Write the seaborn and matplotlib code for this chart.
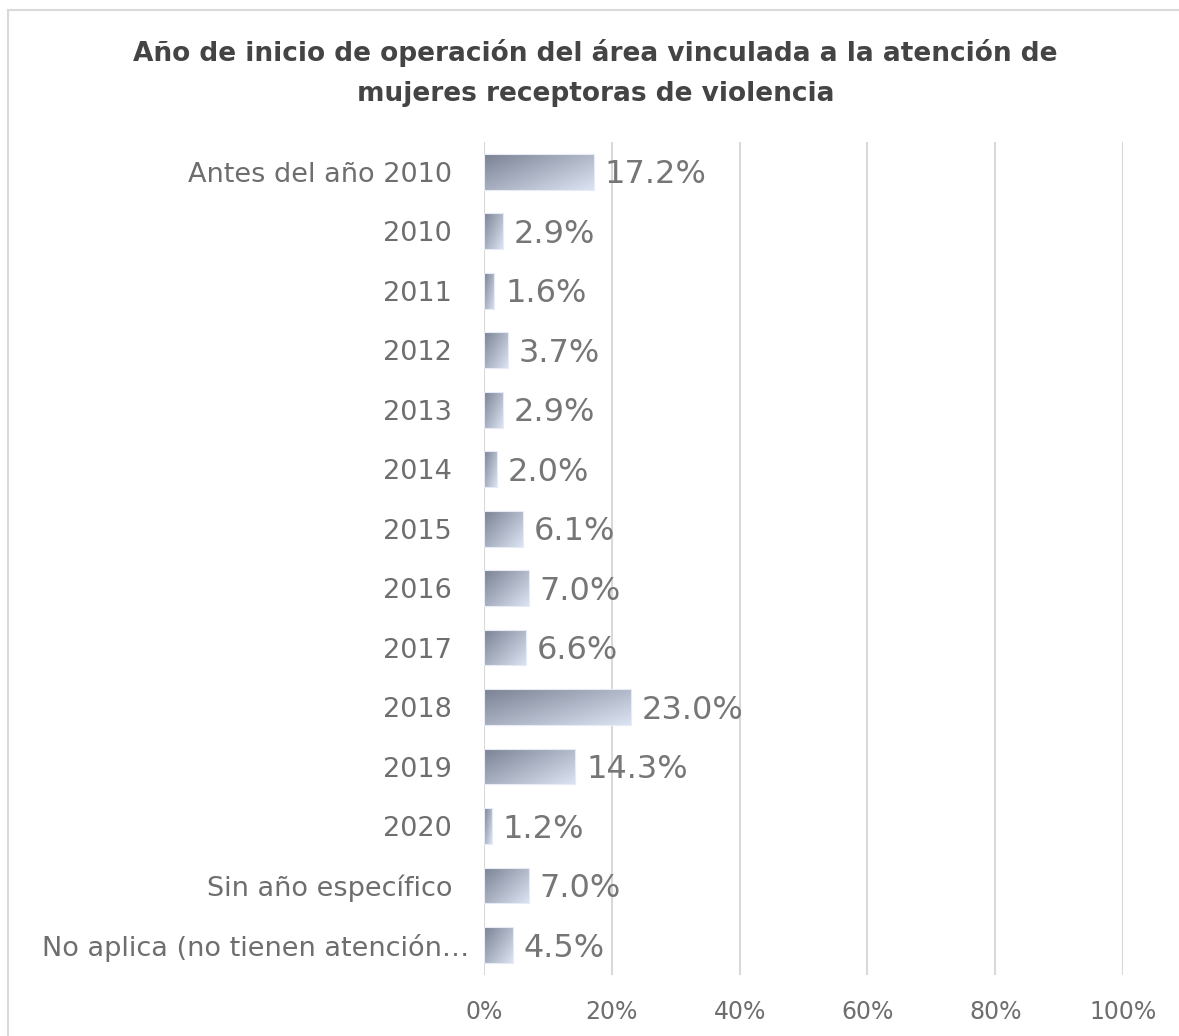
import numpy as np
import pandas as pd
import matplotlib
matplotlib.use("Agg")
import matplotlib.pyplot as plt
import matplotlib.transforms as mtransforms
import seaborn as sns
from matplotlib.colors import LinearSegmentedColormap
from matplotlib.patches import Rectangle

# data
categories = ["Antes del año 2010", "2010", "2011", "2012", "2013", "2014", "2015",
              "2016", "2017", "2018", "2019", "2020", "Sin año específico",
              "No aplica (no tienen atención…"]
values = [17.2, 2.9, 1.6, 3.7, 2.9, 2.0, 6.1, 7.0, 6.6, 23.0, 14.3, 1.2, 7.0, 4.5]
xticks = [0, 20, 40, 60, 80, 100]
title = "Año de inicio de operación del área vinculada a la atención de\nmujeres receptoras de violencia"

df = pd.DataFrame({"cat": categories, "val": values})

sns.set_style("white")
plt.rcParams["font.family"] = ["DejaVu Sans"]

fig = plt.figure(figsize=(11.79, 10.36), dpi=100)
ax = fig.add_axes([0.4105, 0.059, 0.542, 0.804])

sns.barplot(data=df, x="val", y="cat", orient="h", width=0.6,
            color="#aab2c4", ax=ax, zorder=3)

# diagonal gradient fill for each bar (dark top-left -> light bottom-right)
cmap = LinearSegmentedColormap.from_list("g", ["#7b8293", "#dce4f4"])
gx, gy = np.meshgrid(np.linspace(0, 1, 64), np.linspace(0, 1, 64))
grad = 0.55 * gx + 0.45 * gy
for p in ax.patches:
    x0, y0 = p.get_x(), p.get_y()
    w, h = p.get_width(), p.get_height()
    p.set_facecolor("none")
    p.set_edgecolor("#e6ebf5")
    p.set_linewidth(0.8)
    im = ax.imshow(grad, cmap=cmap, aspect="auto", zorder=2.5,
                   extent=[x0, x0 + w, y0 + h, y0], origin="upper")
    im.set_clip_path(p)

for i, v in enumerate(values):
    ax.text(v + 1.7, i + 0.05, f"{v:.1f}%", va="center", ha="left",
            fontsize=23, color="#767676", zorder=4)

ax.set_xlim(0, 100)
ax.set_ylim(len(categories) - 0.5, -0.5)
ax.set_xticks(xticks)
ax.set_xticklabels([f"{t}%" for t in xticks])
ax.grid(axis="x", color="#d9d9d9", linewidth=1.5, zorder=0)
ax.set_axisbelow(True)
for s in ax.spines.values():
    s.set_visible(False)
ax.tick_params(axis="y", length=0, labelsize=19.5, labelcolor="#6e6e6e", pad=23)
ax.tick_params(axis="x", length=0, labelsize=17, labelcolor="#6e6e6e", pad=18)
ax.set_xlabel("")
ax.set_ylabel("")

# the truncated last label sticks out a bit further right in the original
last = ax.get_yticklabels()[-1]
last.set_transform(last.get_transform() +
                   mtransforms.ScaledTranslation(0.17, 0, fig.dpi_scale_trans))

fig.suptitle(title, x=0.505, y=0.962, fontsize=19, color="#444444",
             fontweight="bold", linespacing=1.7)

fig.patches.append(Rectangle((0.007, -0.01), 1.0, 1.0, transform=fig.transFigure,
                             fill=False, edgecolor="#d9d9d9", linewidth=1.5))

fig.savefig("out.png", dpi=100, facecolor="white")
